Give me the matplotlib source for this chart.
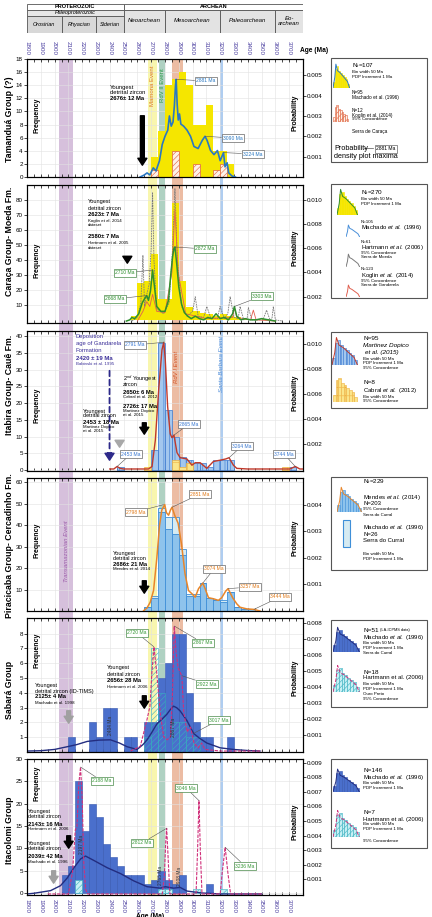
import numpy as np
import matplotlib.pyplot as plt
from matplotlib.patches import Rectangle

W, H = 432, 917
plt.rcParams['font.family'] = ['Liberation Sans', 'DejaVu Sans']
plt.rcParams['mathtext.fontset'] = 'custom'
plt.rcParams['mathtext.rm'] = 'Liberation Sans'
plt.rcParams['mathtext.it'] = 'Liberation Sans:italic'
plt.rcParams['mathtext.bf'] = 'Liberation Sans:bold'
plt.rcParams['hatch.linewidth'] = 0.4

# ---------------- data ----------------
# event bands (Ma)
band_lo = [2030, 2680, 2760, 2850, 3199]
band_hi = [2135, 2745, 2797, 2930, 3219]
band_col = ['#d6c0dc', '#f8f6ae', '#afd1c2', '#ecbca3', '#afcdf0']

# geological time scale header
eons = ['PROTEROZOIC', 'ARCHEAN']
eon_start = [1800, 2500]
eon_end = [2500, 3800]
periods = ['Orosirian', 'Rhyacian', 'Siderian']
per_start = [1800, 2050, 2300]
per_end = [2050, 2300, 2500]
eras = ['Neoarchean', 'Mesoarchean', 'Paleoarchean', 'Eo-\narchean']
era_start = [2500, 2800, 3200, 3600]
era_end = [2800, 3200, 3600, 3800]
age_ticks = list(range(1800, 3801, 100))
age_labels = [str(a) for a in age_ticks[:-1]] + ['']

# Tamandua
tam_bins = [2700, 2750, 2800, 2850, 2900, 2950, 3000, 3050, 3100, 3150, 3200, 3250]
tam_freq = [3, 7, 14, 15, 16, 14, 8, 8, 11, 4, 4, 2]
tam_kog_bins = [2700, 2850, 3000, 3150, 3200]
tam_kog_freq = [1, 4, 2, 1, 2]
tam_pdp_age = [2620, 2650, 2670, 2690, 2715, 2735, 2760, 2780, 2800, 2820, 2832, 2845, 2858,
               2868, 2876, 2881, 2888, 2896, 2905, 2915, 2935, 2960, 2985, 3010, 3040, 3070,
               3090, 3105, 3130, 3155, 3180, 3200, 3224, 3235, 3250, 3262, 3285, 3310]
tam_pdp_prob = [0, 0.0001, 0.0002, 0.0001, 0.00045, 0.0003, 0.0008, 0.0016, 0.002, 0.0023,
                0.003, 0.0025, 0.0027, 0.0035, 0.0045, 0.0048, 0.0036, 0.0028, 0.0031, 0.0026,
                0.0025, 0.0023, 0.0020, 0.0015, 0.0014, 0.0018, 0.0020, 0.0018, 0.0013, 0.0011,
                0.0013, 0.0008, 0.0012, 0.0005, 0.0007, 0.0002, 0.00005, 0]

# Caraca - Moeda
car_bins = [2550, 2600, 2650, 2700, 2750, 2800, 2850, 2900, 2950, 3000, 3050, 3100, 3150,
            3200, 3250, 3300, 3350, 3400, 3500]
car_freq = [3, 25, 26, 44, 14, 14, 78, 26, 9, 6, 5, 4, 3, 4, 3, 2, 1, 1, 1]
car_pdp_age = [2520, 2545, 2560, 2580, 2610, 2635, 2650, 2668, 2680, 2695, 2710, 2722, 2740,
               2770, 2800, 2825, 2840, 2855, 2865, 2872, 2885, 2900, 2920, 2940, 2965, 2990,
               3020, 3050, 3080, 3110, 3140, 3170, 3200, 3230, 3260, 3290, 3303, 3320, 3350,
               3380, 3420, 3460, 3500, 3550, 3600]
car_pdp_prob = [0, 0.0001, 0.0003, 0.0002, 0.0006, 0.0015, 0.0018, 0.0021, 0.0017, 0.0025,
                0.0042, 0.003, 0.0012, 0.0008, 0.0008, 0.0017, 0.0036, 0.0053, 0.006, 0.0061,
                0.0047, 0.0028, 0.0014, 0.0007, 0.0004, 0.0002, 0.0004, 0.0002, 0.0001, 0.0003,
                0.0002, 0.0006, 0.0002, 0.0003, 0.0001, 0.0006, 0.0012, 0.0004, 0.0001, 0.0002,
                0.0001, 0.0001, 0.0002, 0.0001, 0]
car_hart_age = [2560, 2600, 2625, 2640, 2652, 2668, 2685, 2700, 2710, 2720, 2740, 2790, 2830,
                2855, 2872, 2890, 2920, 2960, 3000, 3019, 3040, 3080, 3103, 3130, 3180, 3199,
                3230, 3255, 3272, 3300, 3330, 3344, 3370, 3395, 3404, 3430, 3510, 3536, 3560,
                3575, 3585, 3600, 3650]
car_hart_prob = [0, 0.0003, 0.0015, 0.0054, 0.0012, 0.0022, 0.003, 0.006, 0.0106, 0.005,
                 0.001, 0.0006, 0.0015, 0.006, 0.0109, 0.005, 0.0012, 0.0004, 0.0008, 0.002,
                 0.0004, 0.0003, 0.0012, 0.0003, 0.0002, 0.0012, 0.0002, 0.0006, 0.002, 0.0003,
                 0.0002, 0.0012, 0.0001, 0.0002, 0.0011, 0.0001, 0.0001, 0.0009, 0.0001, 0.0002,
                 0.0012, 0.0001, 0]
car_kog_age = [2600, 2640, 2668, 2690, 2710, 2740, 2800, 2850, 2872, 2895, 2950, 3100, 3290,
               3303, 3320, 3420, 3440, 3460, 3600]
car_kog_prob = [0, 0.0008, 0.0016, 0.0012, 0.0022, 0.0008, 0.0007, 0.004, 0.0092, 0.004,
                0.0006, 0.0002, 0.0003, 0.0011, 0.0003, 0.0001, 0.0009, 0.0001, 0]

# Itabira - Caue
ita_mar_bins = [2450, 2700, 2750, 2800, 2850, 2900, 2950, 3000, 3050, 3100, 3150, 3200, 3250, 3700]
ita_mar_freq = [1, 6, 38, 18, 10, 4, 3, 2, 2, 1, 3, 3, 3, 1]
ita_cab_bins = [2650, 2850, 2900, 2950, 3650]
ita_cab_freq = [1, 3, 1, 2, 1]
ita_pdp_age = [2400, 2429, 2453, 2475, 2500, 2680, 2706, 2730, 2754, 2778, 2791, 2802, 2819,
               2838, 2850, 2865, 2887, 2910, 2959, 2995, 3019, 3055, 3103, 3151, 3199, 3240,
               3264, 3296, 3320, 3400, 3705, 3744, 3777, 3800]
ita_pdp_prob = [0, 0, 0.0002, 0.00005, 0, 0, 0.0002, 0.0023, 0.0063, 0.0095, 0.0101, 0.0087,
                0.005, 0.0028, 0.0025, 0.0027, 0.0013, 0.0009, 0.0008, 0.0003, 0.0005, 0.0005,
                0.00005, 0.0006, 0.0007, 0.0008, 0.0009, 0.0003, 0.00005, 0, 0, 0.0002, 0, 0]

# Piracicaba - Cercadinho
pir_bins = [2650, 2700, 2750, 2800, 2850, 2900, 2950, 3000, 3050, 3100, 3150, 3200, 3250,
            3300, 3350, 3400]
pir_men_freq = [2, 6, 46, 38, 36, 26, 7, 7, 13, 6, 5, 4, 9, 2, 1, 1]
pir_mach_freq = [0, 1, 2, 6, 8, 3, 1, 1, 0, 0, 0, 1, 0, 0, 0, 0]
pir_pdp_age = [2645, 2669, 2693, 2717, 2741, 2760, 2777, 2798, 2810, 2826, 2840, 2851, 2870,
               2895, 2920, 2945, 2970, 2995, 3019, 3043, 3074, 3091, 3115, 3151, 3187, 3211,
               3240, 3257, 3290, 3320, 3344, 3392, 3444, 3488]
pir_pdp_prob = [0.00001, 0.00011, 0.00033, 0.00077, 0.002, 0.0032, 0.0038, 0.004, 0.0037,
                0.0036, 0.0038, 0.0039, 0.0036, 0.0033, 0.0025, 0.0014, 0.00077, 0.00065,
                0.00052, 0.00084, 0.00105, 0.00084, 0.0005, 0.00046, 0.0004, 0.0005, 0.00075,
                0.00084, 0.0005, 0.00027, 0.00014, 0.00008, 0.00006, 0]

# Sabara
sab_bins = [2100, 2250, 2300, 2350, 2400, 2500, 2550, 2650, 2700, 2750, 2800, 2850, 2900,
            2950, 3000, 3050, 3100, 3250]
sab_freq = [1, 2, 1, 3, 3, 1, 1, 2, 2, 5, 6, 8, 8, 4, 2, 1, 1, 1]
sab_hart_bins = [2650, 2700, 2750, 2850, 2900, 2950, 3000]
sab_hart_freq = [1, 7, 4, 2, 2, 1, 1]
sab_h_age = [2550, 2621, 2668, 2691, 2705, 2720, 2740, 2765, 2790, 2815, 2840, 2855, 2867,
             2880, 2895, 2915, 2922, 2935, 2960, 2985, 3010, 3040, 3065, 3090, 3200, 3500]
sab_h_prob = [0, 0.0003, 0.0019, 0.0028, 0.0049, 0.0065, 0.0049, 0.0024, 0.0009, 0.0007,
              0.0009, 0.0038, 0.0078, 0.0062, 0.0052, 0.0048, 0.0047, 0.0025, 0.0012, 0.0015,
              0.0005, 0.0002, 0.0005, 0.0001, 0, 0]
sab_m_age = [1800, 1900, 2000, 2092, 2160, 2236, 2320, 2405, 2470, 2525, 2598, 2640, 2670,
             2700, 2742, 2780, 2814, 2840, 2862, 2885, 2910, 2959, 3007, 3050, 3103, 3200,
             3296, 3400, 3488]
sab_m_prob = [0, 0.00002, 0.0001, 0.00027, 0.0004, 0.0006, 0.00068, 0.0007, 0.0005, 0.00027,
              0.0001, 0.0004, 0.0007, 0.0011, 0.0017, 0.002, 0.0023, 0.0026, 0.0028, 0.0027,
              0.0025, 0.0019, 0.0011, 0.0008, 0.0005, 0.0002, 0.0001, 0.00003, 0]

# Itacolomi
itc_bins = [2050, 2100, 2150, 2200, 2250, 2300, 2350, 2400, 2450, 2500, 2550, 2600, 2650,
            2700, 2750, 2800, 2850, 2900, 3100]
itc_freq = [4, 6, 25, 14, 20, 17, 11, 8, 6, 4, 4, 4, 2, 3, 5, 3, 2, 4, 2]
itc_hart_bins = [2150, 2750, 2800, 3000, 3200]
itc_hart_freq = [3, 1, 1, 1, 1]
itc_h_age = [1950, 2100, 2130, 2150, 2162, 2175, 2188, 2200, 2212, 2225, 2240, 2780, 2795,
             2805, 2812, 2820, 2835, 3025, 3036, 3046, 3056, 3068, 3200, 3215, 3236, 3255,
             3275, 3500]
itc_h_prob = [0, 0, 0.0015, 0.0044, 0.0046, 0.0075, 0.0087, 0.0065, 0.002, 0.0003, 0, 0,
              0.0012, 0.0035, 0.0045, 0.003, 0, 0, 0.003, 0.0064, 0.003, 0, 0, 0.0015, 0.0032,
              0.0015, 0, 0]
itc_m_age = [1800, 1851, 1971, 2043, 2092, 2140, 2188, 2224, 2284, 2381, 2477, 2573, 2670,
             2766, 2802, 2862, 2910, 2959, 3065, 3200, 3500]
itc_m_prob = [0, 0.00005, 0.00023, 0.00057, 0.0011, 0.0018, 0.0024, 0.0026, 0.0023, 0.0018,
              0.0014, 0.0009, 0.0005, 0.0004, 0.0005, 0.0004, 0.00045, 0.0002, 0.00007, 0, 0]

# legend icon shape
icon_shape = [3, 9, 10, 8, 7, 6, 5, 4, 2]
icon_cx = [0, 1, 1.6, 2.5, 4, 6, 8, 9.2]
icon_cy = [0, 5, 11, 8, 7, 5, 3, 0]

# ---------------- helpers ----------------
fig = plt.figure(figsize=(W / 100, H / 100), dpi=100)


def rect(x0, y0, x1, y1):
    return [x0 / W, 1 - y1 / H, (x1 - x0) / W, (y1 - y0) / H]


def fx(x):
    return x / W


def fy(y):
    return 1 - y / H


def txt(x, y, s, size=4.2, **kw):
    kw.setdefault('va', 'center')
    fig.text(fx(x), fy(y), s, fontsize=size, **kw)


def make_panel(top, bot, ylim, yticks, rlim, rticks, label, label_y, freq_y, prob_y):
    ax = fig.add_axes(rect(27, top, 303, bot))
    ax.patch.set_alpha(0)
    ax.set_xlim(1800, 3800)
    ax.set_ylim(*ylim)
    ax.set_xticks(age_ticks)
    ax.set_xticks(range(1850, 3800, 100), minor=True)
    ax.tick_params(axis='x', which='both', direction='in', top=True, length=2.5, width=0.5,
                   labelbottom=False)
    ax.set_yticks(yticks)
    ax.tick_params(axis='y', direction='out', length=2, width=0.5, labelsize=4.5, pad=1)
    ax.grid(True, color='#e2e2e2', lw=0.4)
    ax.set_axisbelow(True)
    for s in ax.spines.values():
        s.set_linewidth(0.8)
    axr = ax.twinx()
    axr.set_ylim(*rlim)
    axr.set_yticks(rticks)
    axr.set_yticklabels(['%.3f' % v for v in rticks])
    axr.tick_params(axis='y', direction='out', length=2, width=0.5, labelsize=4.5, pad=1)
    for s in axr.spines.values():
        s.set_linewidth(0.8)
    txt(10, label_y, label, 6.3, rotation=90, ha='center', fontweight='bold')
    txt(37, freq_y, 'Frequency', 5, rotation=90, ha='center', fontweight='bold')
    txt(295, prob_y, 'Probability', 5, rotation=90, ha='center', fontweight='bold')
    return ax, axr


def peak(axr, age, prob, s, tx, ty, color, ec='#666666'):
    axr.annotate(s, xy=(age, prob), xytext=(tx, H - ty), textcoords='figure pixels',
                 fontsize=3.6, color=color, ha='center', va='center',
                 bbox=dict(boxstyle='square,pad=0.3', fc='white', ec=ec, lw=0.5),
                 arrowprops=dict(arrowstyle='-', color='#555555', lw=0.4, shrinkA=0, shrinkB=0))


def arrow(ax, age, y0, y1, color='black'):
    ax.annotate('', xy=(age, H - y1), xytext=(age, H - y0),
                xycoords=('data', 'figure pixels'), textcoords=('data', 'figure pixels'),
                arrowprops=dict(arrowstyle='simple,head_length=0.5,head_width=0.65,tail_width=0.28',
                                fc=color, ec=color, mutation_scale=10))


def legend_box(x0, y0, x1, y1):
    fig.patches.append(Rectangle((fx(x0), fy(y1)), (x1 - x0) / W, (y1 - y0) / H,
                                 transform=fig.transFigure, fill=False, ec='#555555', lw=0.8))


def icon(x0, y0, x1, y1, fc=None, ec=None, hatch=None, lc=None, ls='-', bars=True):
    a = fig.add_axes(rect(x0, y0, x1, y1))
    a.axis('off')
    a.set_xlim(0, 9.4)
    a.set_ylim(0, 12)
    if bars:
        a.bar(range(len(icon_shape)), icon_shape, width=1, align='edge', facecolor=fc,
              edgecolor=ec, hatch=hatch, lw=0.4)
    if lc:
        a.plot(icon_cx, icon_cy, color=lc, ls=ls, lw=0.7)


def hist(ax, bins, freq, **kw):
    ax.bar(bins, freq, width=50, align='edge', **kw)


# ---------------- background event bands ----------------
bg = fig.add_axes(rect(27, 59, 303, 895))
bg.set_xlim(1800, 3800)
bg.set_ylim(0, 1)
bg.axis('off')
for lo, hi, c in zip(band_lo, band_hi, band_col):
    bg.axvspan(lo, hi, color=c, lw=0)

# ---------------- header ----------------
hd = fig.add_axes(rect(27, 4, 303, 33))
hd.set_xlim(1800, 3800)
hd.set_ylim(33, 4)
hd.axis('off')
for name, a0, a1 in zip(eons, eon_start, eon_end):
    hd.add_patch(Rectangle((a0, 4), a1 - a0, 5.5, fc='white', ec='#555555', lw=0.6))
    hd.text((a0 + a1) / 2, 6.8, name, ha='center', va='center', fontsize=4, fontweight='bold')
hd.add_patch(Rectangle((1800, 9.5), 700, 6.5, fc='#e6e6e6', ec='#555555', lw=0.6))
hd.text(2150, 12.8, 'Paleoproterozoic', ha='center', va='center', fontsize=4, style='italic')
for name, a0, a1 in zip(periods, per_start, per_end):
    hd.add_patch(Rectangle((a0, 16), a1 - a0, 17, fc='#d8d8d8', ec='#555555', lw=0.6))
    hd.text((a0 + a1) / 2, 24.5, name, ha='center', va='center', fontsize=4, style='italic')
for name, a0, a1 in zip(eras, era_start, era_end):
    hd.add_patch(Rectangle((a0, 9.5), a1 - a0, 23.5, fc='#e3e3e3', ec='#555555', lw=0.6))
    hd.text((a0 + a1) / 2, 21, name, ha='center', va='center', fontsize=4.3, style='italic')

# ---------------- panel 1: Tamandua ----------------
ax, axr = make_panel(59, 177, (0, 18), range(0, 19, 2), (0, 0.0058),
                     [0.001, 0.002, 0.003, 0.004, 0.005], 'Tamanduá Group (?)', 119, 115, 113)
ax.set_xticklabels(age_labels)
ax.tick_params(axis='x', labeltop=True, labelsize=4.5, labelcolor='#4b3fa0', labelrotation=270, pad=3)
hist(ax, tam_bins, tam_freq, color='#f5e600', lw=0)
hist(ax, tam_kog_bins, tam_kog_freq, facecolor='#fdf1e8', edgecolor='#e0603c', hatch='//////', lw=0.5)
axr.plot(tam_pdp_age, tam_pdp_prob, color='#2a78c2', lw=1.2)
peak(axr, 2881, 0.0048, '2881 Ma', 206, 81, '#2a78c2')
peak(axr, 3090, 0.0020, '3090 Ma', 233, 138, '#2a78c2')
peak(axr, 3224, 0.0012, '3224 Ma', 253, 154, '#2a78c2')
txt(110, 87, 'Youngest', 4.2)
txt(110, 93, 'detrital zircon', 4.2)
txt(110, 99, '2676± 12 Ma', 4.2, fontweight='bold')
arrow(ax, 2636, 113, 168)
txt(152.5, 86, 'Mamona Event', 4.3, rotation=90, ha='center', color='#e07b1a')
txt(162, 85, 'RdV II Event', 4.3, rotation=90, ha='center', color='#2e9a4a')
txt(300, 51, 'Age (Ma)', 4.8, fontweight='bold')

# ---------------- panel 2: Caraca ----------------
ax, axr = make_panel(185, 323, (-2, 90), range(10, 81, 10), (-0.00016, 0.0112),
                     [0.002, 0.004, 0.006, 0.008, 0.010], 'Caraça Group- Moeda Fm.', 241, 260, 248)
hist(ax, car_bins, car_freq, color='#f5e600', lw=0)
axr.plot(car_hart_age, car_hart_prob, color='#7a7a7a', lw=0.6, ls=(0, (2, 1)))
axr.plot(car_kog_age, car_kog_prob, color='#e06050', lw=0.6)
axr.plot(car_pdp_age, car_pdp_prob, color='#2f8f2f', lw=1.1)
peak(axr, 2872, 0.0061, '2872 Ma', 205, 249, '#2f8f2f', '#4a8a4a')
peak(axr, 2710, 0.0042, '2710 Ma', 125, 273, '#2f8f2f', '#4a8a4a')
peak(axr, 2668, 0.0021, '2668 Ma', 115, 299, '#2f8f2f', '#4a8a4a')
peak(axr, 3303, 0.0012, '3303 Ma', 262, 296, '#2f8f2f', '#4a8a4a')
txt(88, 202, 'Youngest', 4.0)
txt(88, 208, 'detrital zircon', 4.0)
txt(88, 215, '2623± 7 Ma', 4.2, fontweight='bold')
txt(88, 221, 'Koglin et al. 2014', 3.2)
txt(88, 225.5, 'dataset', 3.2)
txt(88, 237, '2580± 7 Ma', 4.2, fontweight='bold')
txt(88, 243, 'Hartmann et al. 2005', 3.2)
txt(88, 247.5, 'dataset', 3.2)
arrow(ax, 2527, 254, 266)

# ---------------- panel 3: Itabira ----------------
ax, axr = make_panel(331, 471, (-0.3, 41.5), range(0, 41, 5), (-0.00016, 0.011),
                     [0.002, 0.004, 0.006, 0.008, 0.010], 'Itabira Group- Cauê Fm.', 385, 405, 393)
hist(ax, ita_mar_bins, ita_mar_freq, facecolor='#a3c7ee', edgecolor='#3a78d0', hatch='|||', lw=0.5)
hist(ax, ita_cab_bins, ita_cab_freq, facecolor='#fbe58a', edgecolor='#eeb040', hatch='++', lw=0.5)
axr.plot(ita_pdp_age, ita_pdp_prob, color='#c0392b', lw=1.0)
blue = '#3a78d0'
peak(axr, 2791, 0.0101, '2791 Ma', 135, 345, blue)
peak(axr, 2865, 0.0027, '2865 Ma', 189, 424, blue)
peak(axr, 3264, 0.0009, '3264 Ma', 242, 446, blue)
peak(axr, 2453, 0.0002, '2453 Ma', 131, 454, blue)
peak(axr, 3744, 0.0002, '3744 Ma', 284, 454, blue)
pc = '#3b2f99'
txt(76, 337, 'Deposition', 4.2, color=pc)
txt(76, 344, 'age of Gandarela', 4.2, color=pc)
txt(76, 351, 'Formation', 4.2, color=pc)
txt(76, 358, '2420 ± 19 Ma', 4.3, color=pc, fontweight='bold')
txt(76, 364, 'Babinski et al. 1995', 3.2, color=pc)
ax.annotate('', xy=(2398, H - 452), xytext=(2398, H - 368),
            xycoords=('data', 'figure pixels'), textcoords=('data', 'figure pixels'),
            arrowprops=dict(arrowstyle='-', ls=(0, (3, 2)), color='#2e2a8a', lw=1.3))
arrow(ax, 2398, 450, 463, color='#2e2a8a')
txt(123, 379, '2$^{nd}$ Youngest', 4.0)
txt(123, 385, 'zircon', 4.0)
txt(123, 392, '2650± 6 Ma', 4.2, fontweight='bold')
txt(123, 397, 'Cabral et al. 2012', 3.2)
txt(123, 406, '2726± 17 Ma', 4.2, fontweight='bold')
txt(123, 411, 'Martinez Dopico', 3.2)
txt(123, 415, 'et al. 2015', 3.2)
arrow(ax, 2650, 420, 437)
txt(83, 411, 'Youngest', 4.0)
txt(83, 416, 'detrital zircon', 4.0)
txt(83, 422, '2453 ± 18 Ma', 4.2, fontweight='bold')
txt(83, 427, 'Martinez Dopico', 3.2)
txt(83, 431, 'et al. 2015', 3.2)
arrow(ax, 2471, 438, 450, color='#a8a8a8')
txt(177, 367, 'RdV I Event', 4.3, rotation=90, ha='center', color='#d2552a', style='italic')
txt(221.5, 364, 'Santa Barbara Event', 4.3, rotation=90, ha='center', color='#4a8ad8', style='italic')

# ---------------- panel 4: Piracicaba ----------------
ax, axr = make_panel(478, 611, (0, 62), range(10, 61, 10), (0, 0.005),
                     [0.001, 0.002, 0.003, 0.004], 'Piracicaba Group- Cercadinho Fm.', 546, 540, 538)
hist(ax, pir_bins, pir_men_freq, facecolor='#8ec3ec', edgecolor='#3f8fd8', lw=0.6)
hist(ax, pir_bins, pir_mach_freq, bottom=pir_men_freq, facecolor='#d6ebf2', edgecolor='#3f8fd8', lw=0.6)
axr.plot(pir_pdp_age, pir_pdp_prob, color='#e8862a', lw=1.1)
oc = '#e07a1a'
peak(axr, 2790, 0.004, '2798 Ma', 136, 512, oc)
peak(axr, 2851, 0.0039, '2851 Ma', 200, 494, oc)
peak(axr, 3074, 0.00105, '3074 Ma', 214, 569, oc)
peak(axr, 3257, 0.00084, '3257 Ma', 250, 587, oc)
peak(axr, 3444, 0.00006, '3444 Ma', 280, 597, oc)
txt(113, 553, 'Youngest', 4.0)
txt(113, 558, 'detrital zircon', 4.0)
txt(113, 564, '2686± 21 Ma', 4.2, fontweight='bold')
txt(113, 569, 'Mendes et al. 2014', 3.2)
arrow(ax, 2650, 578, 596)
txt(66, 551, 'Transamazonian Event', 4.3, rotation=90, ha='center', color='#9a5aa8', style='italic')

# ---------------- panel 5: Sabara ----------------
ax, axr = make_panel(618, 752, (0, 9.05), range(1, 9), (-0.00006, 0.0083),
                     [0.001, 0.002, 0.003, 0.004, 0.005, 0.006, 0.007, 0.008],
                     'Sabará Group', 690, 650, 678)
hist(ax, sab_bins, sab_freq, facecolor='#4a6fcc', edgecolor='#3557b0', lw=0.4)
hist(ax, sab_hart_bins, sab_hart_freq, facecolor='none', edgecolor='#38b0c0', hatch='//////', lw=0.4)
axr.plot(sab_m_age, sab_m_prob, color='#232d80', lw=1.0)
axr.plot(sab_h_age, sab_h_prob, color='#d0307a', lw=0.8, ls=(0, (3, 1.2)))
gc = '#3a9a3a'
peak(axr, 2720, 0.0065, '2720 Ma', 137, 633, gc, '#4a8a4a')
peak(axr, 2867, 0.0078, '2867 Ma', 203, 643, gc, '#4a8a4a')
peak(axr, 2922, 0.0047, '2922 Ma', 207, 684, gc, '#4a8a4a')
peak(axr, 3007, 0.0011, '3017 Ma', 219, 720, gc, '#4a8a4a')
axr.text(2405, 0.0016, '2404 Ma', rotation=90, fontsize=3.5, ha='center', va='center', color='#333333')
axr.text(2862, 0.0015, '2867 Ma', rotation=90, fontsize=3.5, ha='center', va='center', color='#333333')
txt(107, 667, 'Youngest', 4.0)
txt(107, 674, 'detrital zircon', 4.0)
txt(107, 681, '2656± 28 Ma', 4.2, fontweight='bold')
txt(107, 687, 'Hartmann et al. 2006', 3.2)
arrow(ax, 2650, 693, 711)
txt(35, 685, 'Youngest', 4.0)
txt(35, 691, 'detrital zircon (ID-TIMS)', 4.0)
txt(35, 697, '2125± 4 Ma', 4.2, fontweight='bold')
txt(35, 703, 'Machado et al. 1998', 3.2)
arrow(ax, 2102, 708, 726, color='#a0a0a0')

# ---------------- panel 6: Itacolomi ----------------
ax, axr = make_panel(759, 895, (-0.4, 30), range(0, 31, 5), (-0.00007, 0.00925),
                     [0.001, 0.002, 0.003, 0.004, 0.005, 0.006, 0.007, 0.008, 0.009],
                     'Itacolomi Group', 830, 783, 822)
ax.set_xticklabels(age_labels)
ax.tick_params(axis='x', labelbottom=True, labelsize=4.5, labelcolor='#4b3fa0', labelrotation=270, pad=3)
hist(ax, itc_bins, itc_freq, facecolor='#4a6fcc', edgecolor='#3557b0', lw=0.4)
hist(ax, itc_hart_bins, itc_hart_freq, facecolor='#c8f0f4', edgecolor='#38b0c0', hatch='//////', lw=0.4)
axr.plot(itc_m_age, itc_m_prob, color='#232d80', lw=1.0)
axr.plot(itc_h_age, itc_h_prob, color='#d0307a', lw=0.8, ls=(0, (3, 1.2)))
peak(axr, 2188, 0.0087, '2188 Ma', 102, 781, gc, '#4a8a4a')
peak(axr, 2812, 0.0045, '2812 Ma', 142, 843, gc, '#4a8a4a')
peak(axr, 3046, 0.0064, '3046 Ma', 186, 788, gc, '#4a8a4a')
peak(axr, 3236, 0.0032, '3236 Ma', 245, 866, gc, '#4a8a4a')
axr.text(2197, 0.0034, '2197 Ma', rotation=90, fontsize=3.5, ha='center', va='center', color='#333333')
axr.text(2766, 0.0013, '2765 Ma', rotation=90, fontsize=3.5, ha='center', va='center', color='#333333')
axr.text(2908, 0.0012, '2908 Ma', rotation=90, fontsize=3.5, ha='center', va='center', color='#333333')
txt(28, 812, 'Youngest', 4.0)
txt(28, 817, 'detrital zircon', 4.0)
txt(28, 824, '2143± 16 Ma', 4.2, fontweight='bold')
txt(28, 829, 'Hartmann et al. 2006', 3.2)
txt(28, 843, 'Youngest', 4.0)
txt(28, 849, 'detrital zircon', 4.0)
txt(28, 856, '2039± 42 Ma', 4.2, fontweight='bold')
txt(28, 862, 'Machado et al. 1996', 3.2)
arrow(ax, 2102, 833, 851)
arrow(ax, 1993, 868, 886, color='#a0a0a0')
txt(150, 916, 'Age (Ma)', 4.8, ha='center', fontweight='bold')

# ---------------- legends ----------------
LT = 4.3  # legend reference text size
# L1
legend_box(331, 58, 427, 162)
icon(333, 62, 350, 88, fc='#f5e600', ec='#f5e600', lc='#2a78c2')
txt(352, 66, 'N$_t$=107', 4.6)
txt(352, 72, 'Bin width 50 Ma', 3.2)
txt(352, 77, 'PDP Increment 1 Ma', 3.2)
txt(352, 93, 'N=95', 3.4)
txt(352, 98, 'Machado et al. (1996)', 3.4)
icon(333, 102, 349, 122, fc='#fdf1e8', ec='#e0603c', hatch='//////')
txt(352, 110, 'N=12', 3.4)
txt(352, 115, 'Koglin et al. (2014)', 3.4)
txt(352, 119.5, '95% Concordance', 3.2)
txt(352, 132, 'Serra de Caraça', 3.4)
txt(334, 148, 'Probability', 5.2)
txt(334, 156, 'density plot maxima', 5.2)
fig.lines.append(plt.Line2D([fx(364), fx(373)], [fy(148), fy(148)], transform=fig.transFigure,
                            color='#555555', lw=0.5))
fig.text(fx(386), fy(149), '2881 Ma', fontsize=3.6, ha='center', va='center',
         bbox=dict(boxstyle='square,pad=0.3', fc='white', ec='#666666', lw=0.5))

# L2
legend_box(331, 184, 427, 298)
icon(337, 187, 358, 215, fc='#f5e600', ec='#f5e600', lc='#2f8f2f')
txt(361, 193, 'N$_t$=270', 4.6)
txt(361, 199, 'Bin width 50 Ma', 3.2)
txt(361, 204, 'PDP Increment 1 Ma', 3.2)
icon(346, 224, 360, 237, lc='#4a90d9', bars=False)
txt(361, 222, 'N=105', 3.2)
txt(361, 228, 'Machado $\\it{et\\ al.}$ (1996)', LT)
txt(361, 242, 'N=61', 3.2)
txt(361, 247.5, 'Hartmann $\\it{et\\ al.}$ (2006)', LT)
txt(361, 253, '95% Concordance', 3.2)
txt(361, 257.5, 'Serra de Moeda', 3.2)
icon(346, 253, 360, 267, lc='#7a7a7a', bars=False)
txt(361, 269, 'N=123', 3.2)
txt(361, 275, 'Koglin $\\it{et\\ al.}$ (2014)', LT)
txt(361, 281, '95% Concordance', 3.2)
txt(361, 285.5, 'Serra de Gandarela', 3.2)
icon(346, 284, 360, 297, lc='#e06050', bars=False)

# L3
legend_box(331, 332, 427, 408)
icon(332, 335, 358, 365, fc='#a3c7ee', ec='#3a78d0', hatch='|||', lc='#c0392b')
txt(363, 338, 'N=95', 4.6)
txt(363, 346, 'Martinez Dopico', LT + 0.3, style='italic')
txt(365, 353, 'et al. (2015)', LT + 0.3, style='italic')
txt(363, 359, 'Bin width 50 Ma', 3.2)
txt(363, 363.5, 'PDP Increment 1 Ma', 3.2)
txt(363, 368, '95% Concordance', 3.2)
icon(333, 373, 358, 402, fc='#fbe58a', ec='#eeb040', hatch='++')
txt(363, 382, 'N=8', 4.6)
txt(363, 390, 'Cabral $\\it{et\\ al.}$ (2012)', LT)
txt(363, 397, 'Bin width 50 Ma', 3.2)
txt(363, 401.5, '95% Concordance', 3.2)

# L4
legend_box(331, 477, 427, 570)
icon(337, 485, 362, 512, fc='#8ec3ec', ec='#3f8fd8', lc='#e8862a')
txt(363, 482, 'N$_t$=229', 4.6)
txt(363, 497, 'Mendes $\\it{et\\ al.}$ (2014)', LT)
txt(363, 503, 'N=203', LT)
txt(363, 509.5, '95% Concordance', 3.2)
txt(363, 514.5, 'Serra do Curral', 3.2)
fig.patches.append(Rectangle((fx(343), fy(547)), 7 / W, 27 / H, transform=fig.transFigure,
                             fc='#d6ebf2', ec='#3f8fd8', lw=0.8))
txt(363, 527, 'Machado $\\it{et\\ al.}$ (1996)', LT)
txt(363, 534, 'N=26', LT)
txt(363, 541, 'Serra do Curral', LT)
txt(363, 554, 'Bin width 50 Ma', 3.2)
txt(363, 559, 'PDP Increment 1 Ma', 3.2)

# L5
legend_box(331, 620, 427, 707)
icon(333, 625, 360, 652, fc='#4a6fcc', ec='#3557b0', lc='#232d80')
txt(363, 630, 'N=51', 4.6)
txt(380, 630.5, '(LA-ICPMS data)', 2.8)
txt(363, 637, 'Machado $\\it{et\\ al.}$ (1996)', LT)
txt(363, 643, 'Bin width 50 Ma', 3.2)
txt(363, 648, 'PDP Increment 1 Ma', 3.2)
txt(363, 653, 'Serra do Curral', 3.2)
icon(333, 663, 360, 692, fc='#c8f0f4', ec='#38b0c0', hatch='//////', lc='#d0307a', ls='--')
txt(363, 672, 'N=18', 4.6)
txt(363, 678, 'Hartmann et al. (2006)', LT)
txt(363, 684, 'Bin width 50 Ma', 3.2)
txt(363, 689, 'PDP Increment 1 Ma', 3.2)
txt(363, 694, 'Ouro Preto', 3.2)
txt(363, 699, '95% Concordance', 3.2)

# L6
legend_box(331, 759, 427, 848)
icon(333, 767, 360, 792, fc='#4a6fcc', ec='#3557b0', lc='#232d80')
txt(363, 770, 'N=146', 4.6)
txt(363, 777, 'Machado $\\it{et\\ al.}$ (1996)', LT)
txt(363, 783, 'Bin width 50 Ma', 3.2)
txt(363, 788, 'PDP Increment 1 Ma', 3.2)
icon(333, 808, 360, 837, fc='#c8f0f4', ec='#38b0c0', hatch='//////', lc='#d0307a', ls='--')
txt(363, 812, 'N=7', 4.6)
txt(363, 819, 'Hartmann et al. (2006)', LT)
txt(363, 824, 'Bin width 50 Ma', 3.2)
txt(363, 829, 'PDP Increment 1 Ma', 3.2)
txt(363, 841, '95% Concordance', 3.2)

fig.savefig('out.png', dpi=100)
